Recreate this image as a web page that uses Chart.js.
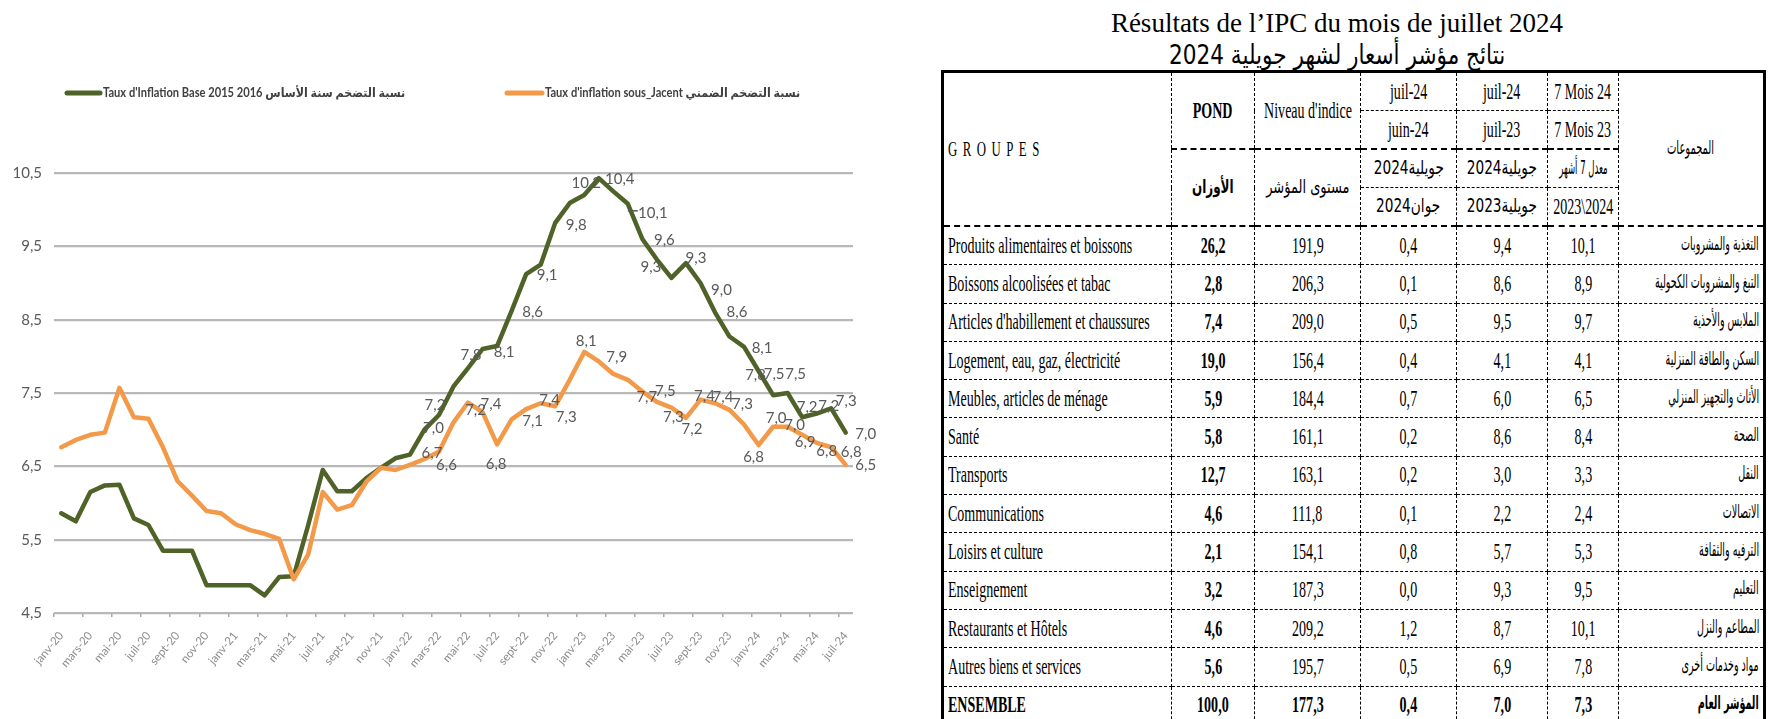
<!DOCTYPE html>
<html>
<head>
<meta charset="utf-8">
<script src="https://cdn.jsdelivr.net/npm/chart.js@4.4.1/dist/chart.umd.min.js"></script>
<style>
html,body{margin:0;padding:0;background:#fff;width:1768px;height:719px;overflow:hidden;}
#chartBox{position:absolute;left:0;top:0;width:900px;height:719px;}
.title{position:absolute;left:997px;width:680px;text-align:center;font-family:'Liberation Serif','Times New Roman',serif;color:#000;white-space:nowrap;}
#t1{top:6px;font-size:27px;line-height:34px;}
#t2{top:38px;font-size:27px;line-height:34px;font-family:'DejaVu Sans','Liberation Serif',serif;}
#t2 span{display:inline-block;transform:scaleX(.8);}
#ipc{position:absolute;left:941px;top:70px;width:822px;border-collapse:collapse;table-layout:fixed;border:3px solid #000;font-family:'Liberation Serif','Times New Roman',serif;font-size:23px;color:#000;}
#ipc td{border:1px dashed #000;padding:0 4px;vertical-align:middle;white-space:nowrap;overflow:visible;line-height:22px;}
#ipc .c{display:flex;justify-content:center;align-items:center;}
#ipc td span{flex:none;display:inline-block;transform:scaleX(.61);transform-origin:center center;}
#ipc td.fr .c{justify-content:flex-start;}
#ipc td.fr span{transform-origin:left center;}
#ipc td.ar{font-family:'DejaVu Sans Condensed','DejaVu Sans',sans-serif;font-size:19px;}
#ipc td.ar .c{justify-content:flex-end;}
#ipc td.ar span{transform-origin:right center;transform:scaleX(.56);position:relative;top:-3px;}
#ipc td.arc{font-family:'DejaVu Sans Condensed','DejaVu Sans',sans-serif;font-size:19px;}
#ipc td.arc span{transform:scaleX(.7);position:relative;top:-2px;}
#ipc td.arc span.n{transform:scaleX(.58);}
#ipc td.arc span.d{transform:scaleX(.8);}
#ipc td.arc span.m{transform:scaleX(.76);}
#ipc td.arc span.s{transform:scaleX(.5);}
#ipc td.b{font-weight:bold;}
#ipc thead td{height:37px;}
#ipc tbody td{height:37.3px;}
#ipc td.bb{border-bottom:2px dashed #000;}
#ipc td.grp span{letter-spacing:9px;font-size:21px;}
#ipc tr.tot td{font-weight:bold;}
</style>
</head>
<body>
<div id="chartBox"><canvas id="c" width="900" height="719"></canvas></div>

<div class="title" id="t1">Résultats de l’IPC du mois de juillet 2024</div>
<div class="title" id="t2"><span>نتائج مؤشر أسعار لشهر جويلية 2024</span></div>

<table id="ipc">
<colgroup>
<col style="width:229px"><col style="width:83px"><col style="width:106px"><col style="width:96px"><col style="width:91px"><col style="width:71px"><col style="width:146px">
</colgroup>
<thead>
<tr>
<td rowspan="4" class="fr grp bb"><span>GROUPES</span></td>
<td rowspan="2" class="b bb"><span>POND</span></td>
<td rowspan="2" class="bb"><span>Niveau d'indice</span></td>
<td><span>juil-24</span></td>
<td><span>juil-24</span></td>
<td><span>7 Mois 24</span></td>
<td rowspan="4" class="arc bb"><span class="n">المجموعات</span></td>
</tr>
<tr>
<td class="bb"><span>juin-24</span></td>
<td class="bb"><span>juil-23</span></td>
<td class="bb"><span>7 Mois 23</span></td>
</tr>
<tr>
<td rowspan="2" class="arc b bb"><span>الأوزان</span></td>
<td rowspan="2" class="arc bb"><span class="m">مستوى المؤشر</span></td>
<td class="arc"><span class="d">جويلية2024</span></td>
<td class="arc"><span class="d">جويلية2024</span></td>
<td class="arc"><span class="s">معدل 7 أشهر</span></td>
</tr>
<tr>
<td class="arc bb"><span class="d">جوان2024</span></td>
<td class="arc bb"><span class="d">جويلية2023</span></td>
<td class="bb"><span>2023\2024</span></td>
</tr>
</thead>
<tbody id="tb"></tbody>
</table>

<script>
// ---------- chart data ----------
const categories = [
 'janv-20','févr-20','mars-20','avr-20','mai-20','juin-20','juil-20','août-20','sept-20','oct-20','nov-20','déc-20',
 'janv-21','févr-21','mars-21','avr-21','mai-21','juin-21','juil-21','août-21','sept-21','oct-21','nov-21','déc-21',
 'janv-22','févr-22','mars-22','avr-22','mai-22','juin-22','juil-22','août-22','sept-22','oct-22','nov-22','déc-22',
 'janv-23','févr-23','mars-23','avr-23','mai-23','juin-23','juil-23','août-23','sept-23','oct-23','nov-23','déc-23',
 'janv-24','févr-24','mars-24','avr-24','mai-24','juin-24','juil-24'
];
const inflationBase = [
 5.86,5.75,6.15,6.24,6.25,5.79,5.70,5.35,5.35,5.35,4.88,4.88,
 4.88,4.88,4.74,4.99,5.00,5.70,6.45,6.16,6.16,6.34,6.48,6.61,
 6.66,7.00,7.20,7.59,7.84,8.10,8.14,8.62,9.12,9.25,9.82,10.09,
 10.20,10.43,10.25,10.08,9.60,9.32,9.07,9.27,9.00,8.60,8.27,8.13,
 7.80,7.47,7.50,7.17,7.22,7.29,6.96
];
const inflationSousJacent = [
 6.76,6.86,6.93,6.96,7.57,7.17,7.15,6.76,6.30,6.10,5.89,5.86,
 5.71,5.63,5.58,5.51,4.96,5.30,6.15,5.91,5.97,6.29,6.48,6.45,
 6.52,6.60,6.70,7.10,7.37,7.24,6.80,7.14,7.28,7.36,7.32,7.68,
 8.06,7.93,7.76,7.68,7.52,7.38,7.30,7.16,7.41,7.36,7.27,7.07,
 6.79,7.04,7.04,6.93,6.82,6.76,6.52
];
const yTickValues = [4.5,5.5,6.5,7.5,8.5,9.5,10.5];
const yTickLabels = ['4,5','5,5','6,5','7,5','8,5','9,5','10,5'];
const seriesNames = [
 "Taux d'Inflation Base 2015 2016 نسبة التضخم سنة الأساس",
 "Taux d'inflation sous_Jacent نسبة التضخم الضمني"
];
// labelled points: [index, dx, dy, leader] offsets of the label from its point
const labelsBase = [
 [25,9,-2],[26,-4,-10],[28,3,-13],[30,7,6],[31,21,1],[32,21,1],[34,21,2],[36,2,-12],[37,21,1],
 [39,25,9,true],[40,22,1],[41,-6,8],[43,10,-5],[44,21,7],[45,22,0],[47,18,1],[48,-3,4],[49,1,-21],
 [50,8,-19],[51,5,-10],[52,12,-7],[53,15,-7],[54,20,2]
];
const labelsSousJacent = [
 [25,22,6],[26,-7,1],[28,23,2],[29,-7,-2],[30,-1,20],[31,21,2],[33,9,-3],[34,11,11],[36,2,-11],
 [37,18,-4],[39,19,17],[40,23,0],[42,2,9],[43,6,11],[44,4,-3],[45,8,-6],[46,13,-6],[48,-5,12],
 [49,3,-9],[50,7,-2],[51,3,7],[52,10,8],[53,20,5],[54,20,0]
];

// ---------- table data ----------
const groupesFr = ['Produits alimentaires et boissons','Boissons alcoolisées et tabac',"Articles d'habillement et chaussures",'Logement, eau, gaz, électricité','Meubles, articles de ménage','Santé','Transports','Communications','Loisirs et culture','Enseignement','Restaurants et Hôtels','Autres biens et services','ENSEMBLE'];
const ponderation = ['26,2','2,8','7,4','19,0','5,9','5,8','12,7','4,6','2,1','3,2','4,6','5,6','100,0'];
const niveauIndice = ['191,9','206,3','209,0','156,4','184,4','161,1','163,1','111,8','154,1','187,3','209,2','195,7','177,3'];
const varMensuelle = ['0,4','0,1','0,5','0,4','0,7','0,2','0,2','0,1','0,8','0,0','1,2','0,5','0,4'];
const varAnnuelle = ['9,4','8,6','9,5','4,1','6,0','8,6','3,0','2,2','5,7','9,3','8,7','6,9','7,0'];
const moy7Mois = ['10,1','8,9','9,7','4,1','6,5','8,4','3,3','2,4','5,3','9,5','10,1','7,8','7,3'];
const groupesAr = ['التغذية والمشروبات','التبغ والمشروبات الكحولية','الملابس والأحذية','السكن والطاقة المنزلية','الأثاث والتجهيز المنزلي','الصحة','النقل','الاتصالات','الترفيه والثقافة','التعليم','المطاعم والنزل','مواد وخدمات أخرى','المؤشر العام'];

const tb = document.getElementById('tb');
groupesFr.forEach((g,i)=>{
  const tr = document.createElement('tr');
  if (i === groupesFr.length-1) tr.className = 'tot';
  const cells = [[g,'fr'],[ponderation[i],'b'],[niveauIndice[i],''],[varMensuelle[i],''],[varAnnuelle[i],''],[moy7Mois[i],''],[groupesAr[i],'ar']];
  cells.forEach(([txt,cls])=>{
    const td = document.createElement('td');
    if (cls) td.className = cls;
    const sp = document.createElement('span');
    sp.textContent = txt;
    td.appendChild(sp);
    tr.appendChild(td);
  });
  tb.appendChild(tr);
});
// wrap every cell's text in a flex box so compressed text stays centred / anchored
document.querySelectorAll('#ipc td').forEach(td => {
  const sp = td.firstElementChild;
  const d = document.createElement('div');
  d.className = 'c';
  td.replaceChild(d, sp);
  d.appendChild(sp);
});

// ---------- chart ----------
const GREEN = '#4f6228';
const ORANGE = '#f39a4a';
const FONT = "Lato, 'DejaVu Sans', sans-serif";
Chart.defaults.font.family = FONT;
const fmt = v => v.toFixed(1).replace('.', ',');

const legendPlugin = {
  id: 'sideLegend',
  afterDraw(chart) {
    const ctx = chart.ctx, ca = chart.chartArea;
    const y = ca.top - 80;
    const items = [{x0: ca.left + 13, x1: ca.left + 46}, {x0: ca.left + 453, x1: ca.left + 488}];
    ctx.save();
    ctx.font = "bold 12.5px " + FONT;
    ctx.textBaseline = 'middle';
    ctx.textAlign = 'left';
    chart.data.datasets.forEach((ds, i) => {
      const it = items[i];
      ctx.strokeStyle = ds.borderColor;
      ctx.lineWidth = 5;
      ctx.lineCap = 'round';
      ctx.beginPath(); ctx.moveTo(it.x0, y); ctx.lineTo(it.x1, y); ctx.stroke();
      ctx.fillStyle = '#404040';
      ctx.save();
      ctx.translate(it.x1 + 3, y);
      ctx.scale(0.89, 1);
      ctx.fillText(ds.label, 0, 0);
      ctx.restore();
    });
    ctx.restore();
  }
};

const pointLabelPlugin = {
  id: 'pointLabels',
  afterDatasetsDraw(chart) {
    const ctx = chart.ctx;
    ctx.save();
    ctx.font = "15px " + FONT;
    ctx.fillStyle = '#595959';
    ctx.strokeStyle = '#595959';
    ctx.lineWidth = 1.5;
    ctx.textAlign = 'center';
    ctx.textBaseline = 'middle';
    chart.data.datasets.forEach((ds, di) => {
      const meta = chart.getDatasetMeta(di);
      (ds.pointLabels || []).forEach(([i, dx, dy, leader]) => {
        const p = meta.data[i];
        ctx.fillText(fmt(ds.data[i]), p.x + dx, p.y + dy);
        if (leader) {
          ctx.beginPath(); ctx.moveTo(p.x, p.y + 7); ctx.lineTo(p.x + 10, p.y + 7); ctx.stroke();
        }
      });
    });
    ctx.restore();
  }
};

new Chart(document.getElementById('c'), {
  type: 'line',
  data: {
    labels: categories,
    datasets: [
      {label: seriesNames[0], data: inflationBase, borderColor: GREEN, backgroundColor: GREEN, borderWidth: 4.5,
       pointRadius: 0, tension: 0, borderJoinStyle: 'round', borderCapStyle: 'round', order: 1, pointLabels: labelsBase},
      {label: seriesNames[1], data: inflationSousJacent, borderColor: ORANGE, backgroundColor: ORANGE, borderWidth: 4.5,
       pointRadius: 0, tension: 0, borderJoinStyle: 'round', borderCapStyle: 'round', order: 0, pointLabels: labelsSousJacent}
    ]
  },
  options: {
    responsive: false,
    animation: false,
    events: [],
    layout: {padding: {top: 173, right: 47, bottom: 0, left: 0}},
    plugins: {legend: {display: false}, tooltip: {enabled: false}, title: {display: false}},
    scales: {
      x: {
        offset: true,
        grid: {offset: true, drawOnChartArea: false, drawTicks: true, tickLength: 4, lineWidth: 1.5,
               color: c => (c.index % 2 === 0 ? '#a6a6a6' : 'rgba(0,0,0,0)')},
        border: {display: false},
        ticks: {autoSkip: false, maxRotation: 50, minRotation: 50, padding: 12, color: '#8c8c8c',
                font: {size: 11.5}, callback: (v, i) => (i % 2 === 0 ? categories[i] : '')},
        afterFit: s => { s.height = 106; }
      },
      y: {
        min: 4.5, max: 10.5,
        afterBuildTicks: s => { s.ticks = yTickValues.map(v => ({value: v})); },
        grid: {color: '#b8b8b8', lineWidth: 2.2, drawTicks: false},
        border: {display: false},
        ticks: {padding: 12, color: '#595959', font: {size: 15}, callback: (v, i) => yTickLabels[i]},
        afterFit: s => { s.width = 54; }
      }
    }
  },
  plugins: [legendPlugin, pointLabelPlugin]
});
</script>
</body>
</html>
